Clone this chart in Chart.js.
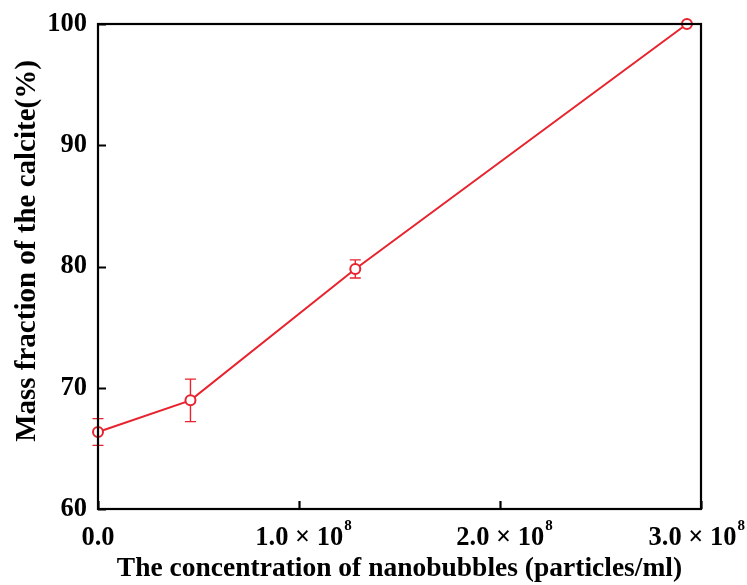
<!DOCTYPE html>
<html>
<head>
<meta charset="utf-8">
<script src="https://cdn.jsdelivr.net/npm/chart.js@4/dist/chart.umd.min.js"></script>
<style>
  html, body { margin: 0; padding: 0; background: #fff; }
  #wrap { width: 747px; height: 585px; }
</style>
</head>
<body>
<div id="wrap"><canvas id="calciteChart" width="747" height="585"></canvas></div>
<script>
// Nanobubble concentration (particles/ml) vs calcite mass fraction (%)
const concentrations = [0, 0.46e8, 1.28e8, 2.93e8];
const calciteFraction = [66.35, 68.96, 79.8, 100];
const errorMargins = [1.1, 1.75, 0.75, 0];

const xTickValues = [0, 1e8, 2e8, 3e8];
const xTickLabels = ['0.0', '1.0 × 10', '2.0 × 10', '3.0 × 10'];
const xTickPowers = ['', '8', '8', '8'];
const yTickValues = [60, 70, 80, 90, 100];

const yTitle = 'Mass fraction of the calcite(%)';

const RED = '#e8232d';
const FONT = '"Liberation Serif", "Times New Roman", serif';

// error bars under the markers, inward ticks, closed frame, x labels and y title
const framePlugin = {
  id: 'frame',
  beforeDatasetsDraw(chart) {
    const { ctx, scales: { x, y } } = chart;
    ctx.save();
    ctx.strokeStyle = RED;
    ctx.lineWidth = 1.4;
    concentrations.forEach((c, i) => {
      const err = errorMargins[i];
      if (!err) return;
      const px = x.getPixelForValue(c);
      const top = y.getPixelForValue(calciteFraction[i] + err);
      const bottom = y.getPixelForValue(calciteFraction[i] - err);
      ctx.beginPath();
      ctx.moveTo(px, top);
      ctx.lineTo(px, bottom);
      ctx.moveTo(px - 5.5, top);
      ctx.lineTo(px + 5.5, top);
      ctx.moveTo(px - 5.5, bottom);
      ctx.lineTo(px + 5.5, bottom);
      ctx.stroke();
    });
    ctx.restore();
  },
  afterDraw(chart) {
    const { ctx, chartArea: a, scales: { x, y } } = chart;
    ctx.save();
    ctx.strokeStyle = '#000';
    ctx.lineWidth = 2.2;
    ctx.beginPath();
    yTickValues.forEach(v => {
      const py = Math.round(y.getPixelForValue(v)) + 0.5;
      ctx.moveTo(a.left, py);
      ctx.lineTo(a.left + 8, py);
    });
    xTickValues.forEach(v => {
      const px = Math.round(x.getPixelForValue(v)) + 0.5;
      ctx.moveTo(px, a.bottom);
      ctx.lineTo(px, a.bottom - 8);
    });
    ctx.stroke();
    ctx.strokeRect(a.left, a.top, a.right - a.left, a.bottom - a.top);

    // x tick labels with a raised exponent, kept inside the canvas
    ctx.fillStyle = '#000';
    ctx.textBaseline = 'alphabetic';
    ctx.textAlign = 'left';
    const mainFont = 'bold 26.5px ' + FONT;
    const powFont = 'bold 15px ' + FONT;
    xTickValues.forEach((v, i) => {
      ctx.font = mainFont;
      const mainW = ctx.measureText(xTickLabels[i]).width;
      ctx.font = powFont;
      const powW = xTickPowers[i] ? ctx.measureText(xTickPowers[i]).width : 0;
      let left = x.getPixelForValue(v) - (mainW + powW) / 2 + (powW ? 4 : 0);
      left = Math.min(left, chart.width - 3 - mainW - powW);
      ctx.font = mainFont;
      ctx.fillText(xTickLabels[i], left, a.bottom + 36);
      if (powW) {
        ctx.font = powFont;
        ctx.fillText(xTickPowers[i], left + mainW + 1, a.bottom + 21);
      }
    });

    // rotated y title, centred slightly above the plot centre
    ctx.translate(28, 251);
    ctx.rotate(-Math.PI / 2);
    ctx.font = 'bold 29px ' + FONT;
    ctx.textAlign = 'center';
    ctx.textBaseline = 'middle';
    ctx.fillText(yTitle, 0, 0);
    ctx.restore();
  }
};

const ctx = document.getElementById('calciteChart').getContext('2d');

new Chart(ctx, {
  type: 'line',
  data: {
    datasets: [{
      data: concentrations.map((c, i) => ({ x: c, y: calciteFraction[i] })),
      borderColor: RED,
      borderWidth: 2,
      backgroundColor: '#fff',
      pointRadius: 5,
      pointBorderWidth: 2,
      pointBackgroundColor: '#fff',
      pointBorderColor: RED,
      tension: 0,
      clip: false
    }]
  },
  options: {
    responsive: false,
    animation: false,
    layout: { padding: { top: 24, right: 46, left: 0, bottom: 0 } },
    plugins: {
      legend: { display: false },
      tooltip: { enabled: false }
    },
    scales: {
      x: {
        type: 'linear',
        min: 0,
        max: 3e8,
        afterBuildTicks: scale => { scale.ticks = xTickValues.map(v => ({ value: v })); },
        afterFit: scale => {
          scale.height = 76;
          scale.paddingLeft = 0;
          scale.paddingRight = 0;
        },
        grid: { display: false, drawTicks: false },
        border: { display: false },
        ticks: { display: false },
        title: {
          display: true,
          text: 'The concentration of nanobubbles (particles/ml)',
          color: '#000',
          padding: { top: 0, bottom: 0 },
          font: { family: FONT, size: 27.5, weight: 'bold' }
        }
      },
      y: {
        min: 60,
        max: 100,
        afterBuildTicks: scale => { scale.ticks = yTickValues.map(v => ({ value: v })); },
        afterFit: scale => {
          scale.width = 98;
          scale.paddingTop = 0;
          scale.paddingBottom = 0;
        },
        grid: { display: false, drawTicks: false },
        border: { display: false },
        ticks: {
          color: '#000',
          padding: 11,
          font: { family: FONT, size: 26.5, weight: 'bold' }
        }
      }
    }
  },
  plugins: [framePlugin]
});
</script>
</body>
</html>
